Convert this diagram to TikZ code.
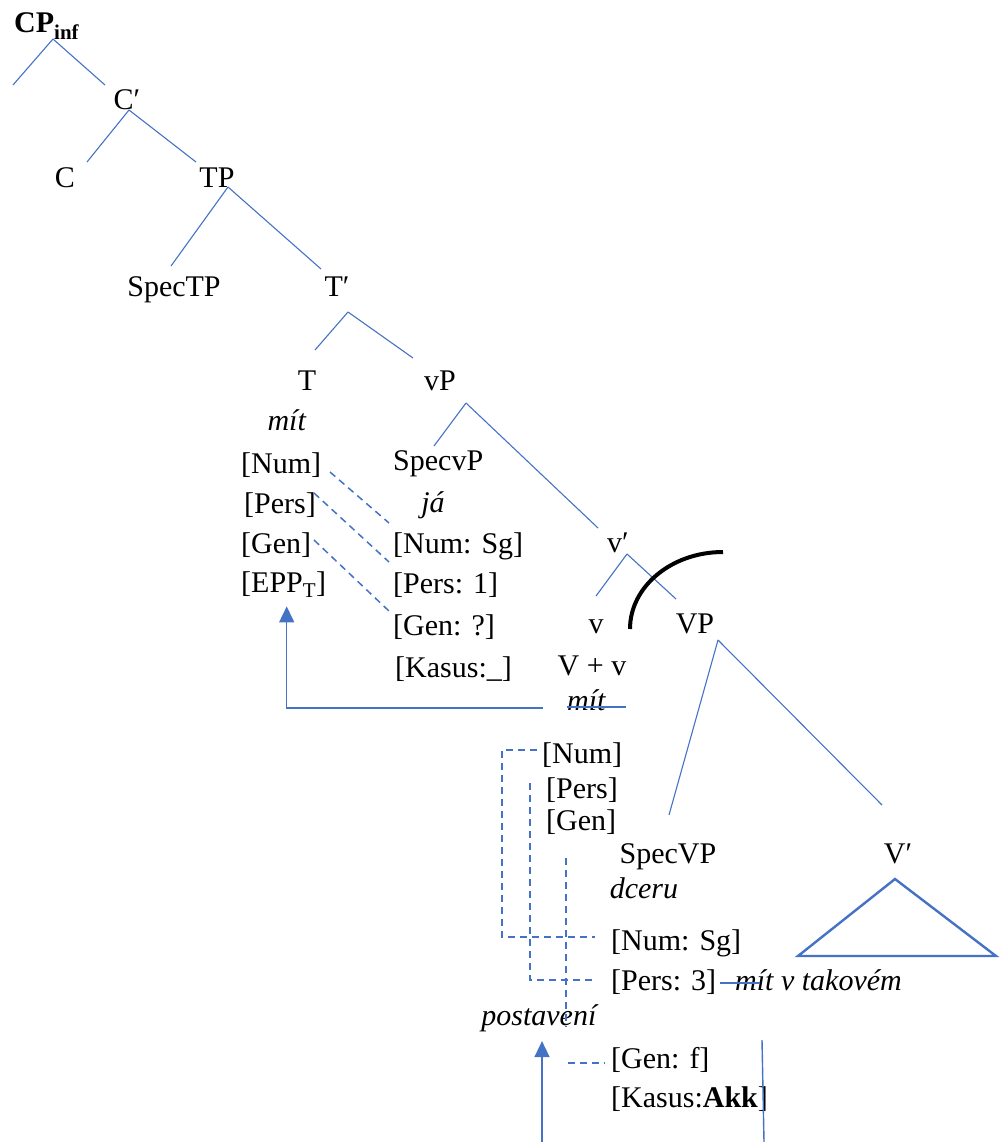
\documentclass[tikz,border=0pt]{standalone}
\usepackage{fontspec}
\setmainfont{Liberation Serif}
\usetikzlibrary{arrows.meta}
\definecolor{treeblue}{RGB}{68,114,196}

\begin{document}
\begin{tikzpicture}[
        x=1pt, y=-1pt,
        every node/.style={inner sep=0pt, font=\fontsize{30}{36}\selectfont},
        cat/.style={anchor=base},
        feat/.style={anchor=base west},
        branch/.style={draw=treeblue, line width=1.1pt},
        agree/.style={draw=treeblue, line width=1.5pt, dash pattern=on 7pt off 5pt},
        movearrow/.style={draw=treeblue, line width=1.5pt, -{Triangle[length=16pt,width=15pt]}}
    ]
        \useasboundingbox (0,0) rectangle (1003,1142);

        % Upper tree: CP, C', TP, T'
        \node [feat] (cpinf) at (14,33) {\textbf{CP\textsubscript{inf}}};
        \node [cat] (cbar) at (127,110) {C′};
        \node [cat] (c) at (65,188) {C};
        \node [cat] (tp) at (217,188) {TP};
        \node [cat] (spectp) at (174,296) {SpecTP};
        \node [cat] (tbar) at (337,296) {T′};
        \node [cat] (t) at (307,390) {T};
        \node [cat] (vp) at (440,390) {vP};

        % Features of T
        \node [cat] (mitT) at (287,430) {\textit{mít}};
        \node [feat] (numT) at (241,473) {[Num]};
        \node [feat] (persT) at (244,513) {[Pers]};
        \node [feat] (genT) at (241,553) {[Gen]};
        \node [feat] (epp) at (241,592) {[EPP\textsubscript{T}]};

        % SpecvP and its features
        \node [feat] (specvp) at (393,470) {SpecvP};
        \node [cat] (ja) at (433,512) {\textit{já}};
        \node [feat] (numSg) at (393,553) {[Num: Sg]};
        \node [feat] (pers1) at (393,593) {[Pers: 1]};
        \node [feat] (genQ) at (393,635) {[Gen: ?]};
        \node [feat] (kasusE) at (395,677) {[Kasus:\_]};

        % v', v, VP
        \node [cat] (vbar) at (618,552) {v′};
        \node [cat] (v) at (596,633) {v};
        \node [cat] (vplusv) at (592,675) {V + v};
        \node [feat] (mitv) at (567,710) {\textit{mít}};
        \node [cat] (bigvp) at (695,633) {VP};

        % Features of V + v
        \node [feat] (numV) at (542,763) {[Num]};
        \node [feat] (persV) at (546,798) {[Pers]};
        \node [feat] (genV) at (546,830) {[Gen]};

        % SpecVP, V'
        \node [cat] (specVP) at (668,863) {SpecVP};
        \node [cat] (dceru) at (644,898) {\textit{dceru}};
        \node [cat] (vbarV) at (898,863) {V′};
        \node [feat] (numSg3) at (611,950) {[Num: Sg]};
        \node [feat] (pers3) at (611,990) {[Pers: 3]};
        \node [feat] (mittak) at (735,990) {\textit{mít v takovém}};
        \node [cat] (postaveni) at (540,1025) {\textit{postavení}};
        \node [feat] (genF) at (611,1068) {[Gen: f]};
        \node [feat] (kasusAkk) at (611,1107) {[Kasus:\textbf{Akk}]};

        % Branch points of the tree
        \foreach \n/\x/\y in {cpA/53/39, cpL/13/85, cpR/105/85,
                              cbA/129/110, cbL/87/162, cbR/196/162,
                              tpA/228/187, tpL/171/266, tpR/321/269,
                              tbA/348/312, tbL/315/350, tbR/413/358,
                              vpA/466/403, vpL/434/446, vpR/598/528,
                              vbA/627/554, vbL/596/596, vbR/676/599,
                              bvA/718/640, bvL/669/815, bvR/882/805}
            \coordinate (\n) at (\x,\y);
        \foreach \a/\b in {cpA/cpL, cpA/cpR, cbA/cbL, cbA/cbR, tpA/tpL, tpA/tpR,
                           tbA/tbL, tbA/tbR, vpA/vpL, vpA/vpR, vbA/vbL, vbA/vbR,
                           bvA/bvL, bvA/bvR}
            \draw [branch] (\a) -- (\b);

        % Triangle under V'
        \coordinate (triTop) at (895,879);
        \draw [draw=treeblue, line width=2.4pt] (triTop) -- (798,956) -- (996,956) -- cycle;

        % Arc across v' -- VP
        \coordinate (arcStart) at (630,629);
        \draw [line width=4pt] (arcStart) arc[start angle=180, end angle=270, x radius=93, y radius=77];

        % Agreement T -- SpecvP
        \foreach \n/\x/\y in {aN/330/472, bN/389/523, aP/314/493, bP/389/562, aG/314/540, bG/390/612}
            \coordinate (\n) at (\x,\y);
        \draw [agree] (aN) -- (bN);
        \draw [agree] (aP) -- (bP);
        \draw [agree] (aG) -- (bG);

        % Agreement V + v -- SpecVP
        \foreach \n/\x/\y in {kN/502/750, kP/530/783, kG/566/858, kGe/566/1027, kF/568/1063}
            \coordinate (\n) at (\x,\y);
        \draw [agree] ([xshift=-5pt]numV.west |- kN) -- (kN) |- ([xshift=-16pt]numSg3.west |- 0,937);
        \draw [agree] (kP) |- ([xshift=-16pt]pers3.west |- 0,980);
        \draw [agree] (kG) -- (kGe);
        \draw [agree] (kF) -- ([xshift=-6pt]genF.west |- kF);

        % Movement arrows
        \coordinate (mitSrc) at (543,708);
        \draw [movearrow, shorten >=9pt] (mitSrc) -| ([xshift=3pt]epp.south);
        \coordinate (postSrc) at (542,1142);
        \draw [movearrow, shorten >=9.5pt] (postSrc) -- (postSrc |- postaveni.south);

        % Strike-through and cut line
        \draw [branch] ([yshift=3pt]mitv.base west) -- ++(59,0);
        \draw [branch] ([xshift=-15pt, yshift=7pt]mittak.base west) -- ++(40,0);
        \coordinate (cutTop) at (762,1040);
        \coordinate (cutBot) at (764,1142);
        \draw [branch, line width=1.4pt] (cutTop) -- (cutBot);
    \end{tikzpicture}
\end{document}
